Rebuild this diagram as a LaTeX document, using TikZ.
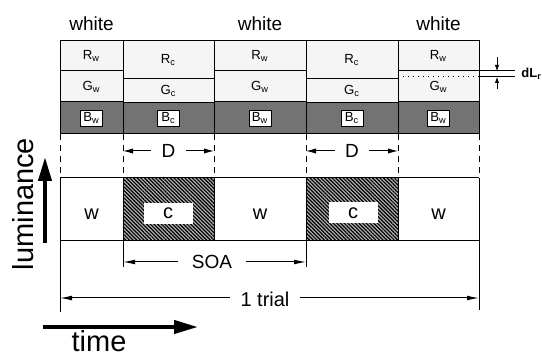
\documentclass[tikz,border=0pt]{standalone}
\usepackage{fontspec}
\setmainfont{Liberation Sans}
\usetikzlibrary{positioning,calc,arrows.meta,patterns.meta}

\tikzset{
  lbl/.style={inner sep=0pt, font=\fontsize{9.5}{11}\selectfont},
  chan/.style={inner sep=0pt, font=\fontsize{6.6}{7}\selectfont},
  big/.style={inner sep=0pt, font=\fontsize{14.5}{16}\selectfont},
  cell/.style={draw, line width=0.5pt, fill=black!4},
  bcell/.style={draw, line width=0.5pt, fill=black!55},
  bbox/.style={chan, fill=white, draw, line width=0.3pt, inner xsep=1pt, minimum width=11pt, minimum height=8pt},
  guide/.style={line width=0.5pt, dash pattern=on 3pt off 2.5pt},
  dimlbl/.style={lbl, inner xsep=5pt},
  dimarr/.style={line width=0.5pt, -{Latex[length=5pt,width=2.6pt]}},
  smallarr/.style={line width=0.4pt, -{Latex[length=3pt,width=2.2pt]}},
  hatchbox/.style={draw, line width=0.5pt, preaction={fill=black!30}, pattern={Lines[angle=-45,distance=1.3pt,line width=0.6pt]}},
  thickarr/.style={line width=2pt, -{Triangle[length=12pt,width=6.5pt]}}
}

\begin{document}
\begin{tikzpicture}[x=0.5pt,y=-0.5pt]
\useasboundingbox (0,0) rectangle (542,357);

\foreach \xa/\xb/\n in {60/123/1, 214/306/3, 398/479/5}{
  \draw[cell] (\xa,41) rectangle (\xb,71);
  \draw[cell] (\xa,71) rectangle (\xb,102);
  \draw[bcell] (\xa,102) rectangle (\xb,134);
  \node[lbl] (white\n) at ({(\xa+\xb)/2},24) {white};
  \node[chan] (r\n) at ({(\xa+\xb)/2},56) {R\textsubscript{w}};
  \node[chan] (g\n) at ({(\xa+\xb)/2},87) {G\textsubscript{w}};
  \node[bbox] (b\n) at ({(\xa+\xb)/2},118) {B\textsubscript{w}};
}
\foreach \xa/\xb/\n in {123/214/2, 306/398/4}{
  \draw[cell] (\xa,41) rectangle (\xb,79);
  \draw[cell] (\xa,79) rectangle (\xb,103);
  \draw[bcell] (\xa,103) rectangle (\xb,134);
  \node[chan] (r\n) at ({(\xa+\xb)/2},60) {R\textsubscript{c}};
  \node[chan] (g\n) at ({(\xa+\xb)/2},91) {G\textsubscript{c}};
  \node[bbox] (b\n) at ({(\xa+\xb)/2},118) {B\textsubscript{c}};
}

% dL
\draw[line width=0.5pt, dotted] (398,77) -- (479,77);
\draw[line width=0.5pt] (479,71) -- (515,71);
\draw[line width=0.5pt] (479,77) -- (515,77);
\coordinate (dla) at (497,57);
\coordinate (dlb) at (497,71);
\coordinate (dlc) at (497,89);
\coordinate (dld) at (497,77);
\draw[smallarr] (dla) -- (dlb);
\draw[smallarr] (dlc) -- (dld);
\node[anchor=west, inner sep=0pt, font=\bfseries\fontsize{6.5}{7}\selectfont] (dl) at (521,74) {dL\textsubscript{r}};

\foreach \x in {60,123,214,306,398,479}
  \draw[guide] (\x,134) -- (\x,178);

% D
\node[dimlbl] (d2) at (168.5,151) {D};
\node[dimlbl] (d4) at (352,151) {D};
\coordinate (d2l) at (123,151);
\coordinate (d2r) at (214,151);
\coordinate (d4l) at (306,151);
\coordinate (d4r) at (398,151);
\draw[dimarr] (d2) -- (d2l);
\draw[dimarr] (d2) -- (d2r);
\draw[dimarr] (d4) -- (d4l);
\draw[dimarr] (d4) -- (d4r);

% luminance sequence
\draw[hatchbox] (123,178) rectangle (214,241);
\draw[hatchbox] (306,178) rectangle (398,241);
\draw[line width=0.5pt] (60,178) -- (479,178);
\draw[line width=0.5pt] (60,241) -- (479,241);
\node[lbl, font=\fontsize{10}{11}\selectfont] (w1) at (91.5,214) {w};
\node[lbl, font=\fontsize{10}{11}\selectfont] (w3) at (260,214) {w};
\node[lbl, font=\fontsize{10}{11}\selectfont] (w5) at (438.5,214) {w};
\node[lbl, font=\fontsize{10}{11}\selectfont, fill=white, minimum width=24.5pt, minimum height=10.5pt] (c2) at (168,213.5) {c};
\node[lbl, font=\fontsize{10}{11}\selectfont, fill=white, minimum width=24.5pt, minimum height=10.5pt] (c4) at (353,213) {c};
\draw[line width=0.5pt] (60,178) -- (60,312);
\draw[line width=0.5pt] (123,178) -- (123,267);
\draw[line width=0.5pt] (214,178) -- (214,241);
\draw[line width=0.5pt] (306,178) -- (306,267);
\draw[line width=0.5pt] (398,178) -- (398,241);
\draw[line width=0.5pt] (479,178) -- (479,310);

% SOA and trial
\node[lbl, inner xsep=7pt] (soa) at (212,262) {SOA};
\coordinate (soal) at (123,262);
\coordinate (soar) at (306,262);
\draw[line width=0.5pt, -{Latex[length=6pt,width=2.4pt]}] (soa) -- (soal);
\draw[line width=0.5pt, -{Latex[length=6pt,width=2.4pt]}] (soa) -- (soar);
\node[lbl, font=\fontsize{10}{11}\selectfont, inner xsep=5pt] (trial) at (265,299) {1 trial};
\coordinate (triall) at (60,298);
\coordinate (trialr) at (479,298);
\draw[line width=0.5pt, -{Latex[length=6pt,width=2.4pt]}] (trial.west |- triall) -- (triall);
\draw[line width=0.5pt, -{Latex[length=6pt,width=2.4pt]}] (trial.east |- trialr) -- (trialr);

% axes
\node[big, rotate=90] (lum) at (23,204) {luminance};
\coordinate (lumfoot) at (45,243);
\coordinate (lumtip) at (45,157);
\draw[thickarr] (lumfoot) -- (lumtip);
\coordinate (tfoot) at (43,327);
\coordinate (ttip) at (198,327);
\draw[thickarr] (tfoot) -- (ttip);
\node[big] (time) at (99,341) {time};
\end{tikzpicture}
\end{document}
